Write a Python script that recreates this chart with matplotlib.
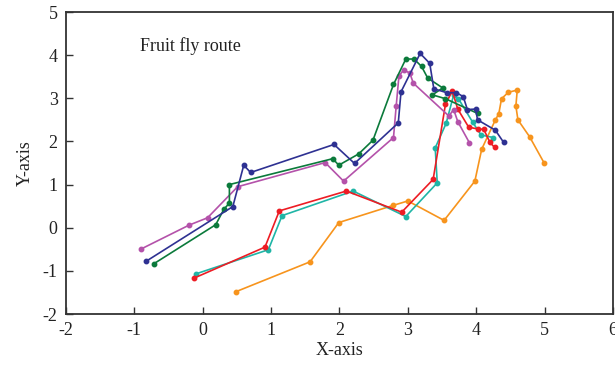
import matplotlib
matplotlib.use("Agg")
import matplotlib.pyplot as plt

plt.rcParams['font.family'] = ['Liberation Serif', 'DejaVu Serif']
plt.rcParams['axes.unicode_minus'] = False

# Route data
blue_x = [-0.83, 0.44, 0.60, 0.70, 1.92, 2.22, 2.86, 2.90, 3.18, 3.32, 3.38, 3.57, 3.71, 3.81, 3.87, 3.99, 4.02, 4.28, 4.40]
blue_y = [-0.78, 0.49, 1.45, 1.28, 1.93, 1.49, 2.43, 3.15, 4.04, 3.81, 3.22, 3.13, 3.13, 3.04, 2.74, 2.75, 2.50, 2.26, 1.98]

green_x = [-0.71, 0.19, 0.31, 0.39, 0.39, 1.90, 1.99, 2.28, 2.49, 2.79, 2.97, 3.09, 3.20, 3.29, 3.51, 3.36, 3.55, 4.02]
green_y = [-0.83, 0.07, 0.43, 0.57, 1.00, 1.60, 1.45, 1.71, 2.03, 3.32, 3.91, 3.91, 3.74, 3.47, 3.24, 3.08, 2.99, 2.65]

magenta_x = [-0.91, -0.20, 0.07, 0.51, 1.79, 2.06, 2.79, 2.83, 2.87, 2.94, 3.03, 3.08, 3.60, 3.67, 3.73, 3.90]
magenta_y = [-0.50, 0.06, 0.23, 0.95, 1.51, 1.08, 2.09, 2.83, 3.52, 3.66, 3.58, 3.35, 2.59, 2.74, 2.46, 1.97]

red_x = [-0.13, 0.91, 1.12, 2.10, 2.91, 3.37, 3.55, 3.65, 3.73, 3.89, 4.02, 4.11, 4.20, 4.27]
red_y = [-1.17, -0.45, 0.39, 0.85, 0.36, 1.12, 2.86, 3.17, 2.75, 2.33, 2.29, 2.28, 1.98, 1.86]

cyan_x = [-0.10, 0.96, 1.16, 2.20, 2.97, 3.43, 3.40, 3.56, 3.67, 3.74, 3.95, 4.07, 4.25]
cyan_y = [-1.07, -0.51, 0.28, 0.85, 0.26, 1.04, 1.85, 2.42, 3.08, 2.99, 2.44, 2.15, 2.09]

orange_x = [0.49, 1.57, 1.99, 2.79, 3.00, 3.53, 3.98, 4.08, 4.28, 4.33, 4.37, 4.47, 4.60, 4.58, 4.61, 4.78, 4.99]
orange_y = [-1.48, -0.79, 0.12, 0.52, 0.62, 0.17, 1.08, 1.82, 2.50, 2.64, 2.99, 3.14, 3.19, 2.82, 2.50, 2.11, 1.51]

x_ticks = [-2, -1, 0, 1, 2, 3, 4, 5, 6]
y_ticks = [-2, -1, 0, 1, 2, 3, 4, 5]

series = [
    (orange_x, orange_y, '#f7941d'),
    (cyan_x, cyan_y, '#1fb5a6'),
    (red_x, red_y, '#ed1c24'),
    (magenta_x, magenta_y, '#b452aa'),
    (green_x, green_y, '#0b7a3b'),
    (blue_x, blue_y, '#2e3192'),
]

fig = plt.figure(figsize=(6.15, 3.79), dpi=100)
ax = fig.add_axes([0.1073, 0.1715, 0.8894, 0.7968])

for xs, ys, c in series:
    ax.plot(xs, ys, color=c, lw=1.2, marker='o', ms=3.2, mec=c, mfc=c)

ax.set_xlim(-2, 6)
ax.set_ylim(-2, 5)
ax.set_xticks(x_ticks)
ax.set_yticks(y_ticks)
ax.tick_params(axis='both', direction='in', length=5, width=1.0, labelsize=13,
               colors='#333333', labelcolor='#222222')
ax.tick_params(axis='x', pad=6)
ax.tick_params(axis='y', pad=6)
for s in ax.spines.values():
    s.set_color('#333333')
    s.set_linewidth(1.3)

ax.set_xlabel('X-axis', fontsize=13, color='#222222', labelpad=2)
ax.set_ylabel('Y-axis', fontsize=13, color='#222222', labelpad=6)
ax.text(-0.92, 4.22, 'Fruit fly route', fontsize=13, color='#222222', ha='left', va='center')

fig.savefig('out.png', dpi=100)
